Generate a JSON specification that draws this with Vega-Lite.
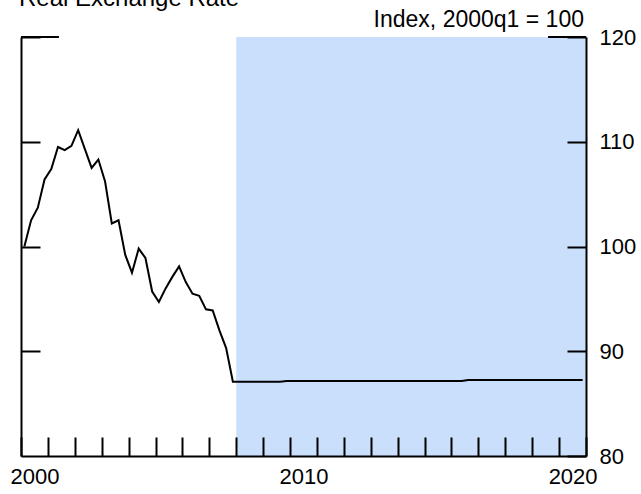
{
  "$schema": "https://vega.github.io/schema/vega-lite/v6.json",
  "width": 565,
  "height": 419,
  "autosize": {"type": "none"},
  "padding": {"left": 21, "top": 37, "right": 55, "bottom": 38},
  "background": "white",
  "title": {
    "text": "Real Exchange Rate",
    "anchor": "start",
    "frame": "group",
    "font": "Liberation Sans",
    "fontSize": 24,
    "fontWeight": "normal",
    "color": "black",
    "baseline": "alphabetic",
    "offset": 0,
    "dx": -2,
    "dy": 22
  },
  "config": {
    "view": {"stroke": null},
    "font": "Liberation Sans",
    "axis": {"zindex": 1},
    "axisX": {
      "title": null,
      "labelOffset": 13.5,
      "labelFlush": false,
      "labelOverlap": false,
      "labelFont": "Liberation Sans",
      "labelFontSize": 22,
      "labelColor": "black",
      "labelPadding": 29,
      "tickSize": -19,
      "tickWidth": 2,
      "tickColor": "black",
      "domainColor": "black",
      "domainWidth": 2,
      "grid": false,
      "zindex": 1
    }
  },
  "datasets": {
    "rer": [
      {"t": 2000.125, "v": 100.0},
      {"t": 2000.375, "v": 102.5},
      {"t": 2000.625, "v": 103.7},
      {"t": 2000.875, "v": 106.4},
      {"t": 2001.125, "v": 107.4},
      {"t": 2001.375, "v": 109.5},
      {"t": 2001.625, "v": 109.2},
      {"t": 2001.875, "v": 109.6},
      {"t": 2002.125, "v": 111.1},
      {"t": 2002.375, "v": 109.3},
      {"t": 2002.625, "v": 107.5},
      {"t": 2002.875, "v": 108.3},
      {"t": 2003.125, "v": 106.2},
      {"t": 2003.375, "v": 102.2},
      {"t": 2003.625, "v": 102.5},
      {"t": 2003.875, "v": 99.2},
      {"t": 2004.125, "v": 97.5},
      {"t": 2004.375, "v": 99.8},
      {"t": 2004.625, "v": 98.9},
      {"t": 2004.875, "v": 95.7},
      {"t": 2005.125, "v": 94.7},
      {"t": 2005.375, "v": 96.0},
      {"t": 2005.625, "v": 97.1},
      {"t": 2005.875, "v": 98.1},
      {"t": 2006.125, "v": 96.6},
      {"t": 2006.375, "v": 95.5},
      {"t": 2006.625, "v": 95.3},
      {"t": 2006.875, "v": 94.0},
      {"t": 2007.125, "v": 93.9},
      {"t": 2007.375, "v": 92.0},
      {"t": 2007.625, "v": 90.3},
      {"t": 2007.875, "v": 87.1},
      {"t": 2008.125, "v": 87.1},
      {"t": 2008.375, "v": 87.1},
      {"t": 2008.625, "v": 87.1},
      {"t": 2008.875, "v": 87.1},
      {"t": 2009.125, "v": 87.1},
      {"t": 2009.375, "v": 87.1},
      {"t": 2009.625, "v": 87.1},
      {"t": 2009.875, "v": 87.15},
      {"t": 2010.125, "v": 87.15},
      {"t": 2010.375, "v": 87.15},
      {"t": 2010.625, "v": 87.15},
      {"t": 2010.875, "v": 87.15},
      {"t": 2011.125, "v": 87.15},
      {"t": 2011.375, "v": 87.15},
      {"t": 2011.625, "v": 87.15},
      {"t": 2011.875, "v": 87.15},
      {"t": 2012.125, "v": 87.15},
      {"t": 2012.375, "v": 87.15},
      {"t": 2012.625, "v": 87.15},
      {"t": 2012.875, "v": 87.15},
      {"t": 2013.125, "v": 87.15},
      {"t": 2013.375, "v": 87.15},
      {"t": 2013.625, "v": 87.15},
      {"t": 2013.875, "v": 87.15},
      {"t": 2014.125, "v": 87.15},
      {"t": 2014.375, "v": 87.15},
      {"t": 2014.625, "v": 87.15},
      {"t": 2014.875, "v": 87.15},
      {"t": 2015.125, "v": 87.15},
      {"t": 2015.375, "v": 87.15},
      {"t": 2015.625, "v": 87.15},
      {"t": 2015.875, "v": 87.15},
      {"t": 2016.125, "v": 87.15},
      {"t": 2016.375, "v": 87.15},
      {"t": 2016.625, "v": 87.25},
      {"t": 2016.875, "v": 87.25},
      {"t": 2017.125, "v": 87.25},
      {"t": 2017.375, "v": 87.25},
      {"t": 2017.625, "v": 87.25},
      {"t": 2017.875, "v": 87.25},
      {"t": 2018.125, "v": 87.25},
      {"t": 2018.375, "v": 87.25},
      {"t": 2018.625, "v": 87.25},
      {"t": 2018.875, "v": 87.25},
      {"t": 2019.125, "v": 87.25},
      {"t": 2019.375, "v": 87.25},
      {"t": 2019.625, "v": 87.25},
      {"t": 2019.875, "v": 87.25},
      {"t": 2020.125, "v": 87.25},
      {"t": 2020.375, "v": 87.25},
      {"t": 2020.625, "v": 87.25},
      {"t": 2020.875, "v": 87.25}
    ],
    "shade": [{"start": 2008, "end": 2021}],
    "topframe": [
      {"x1": 2000, "x2": 2001.41, "y": 120},
      {"x1": 2019.59, "x2": 2021, "y": 120}
    ]
  },
  "encoding": {
    "x": {
      "type": "quantitative",
      "scale": {"domain": [2000, 2021], "nice": false, "zero": false},
      "axis": {
        "values": [2000, 2001, 2002, 2003, 2004, 2005, 2006, 2007, 2008, 2009, 2010, 2011, 2012, 2013, 2014, 2015, 2016, 2017, 2018, 2019, 2020, 2021],
        "labelExpr": "datum.value % 10 == 0 && datum.value < 2021 ? format(datum.value, 'd') : ''",
        "zindex": 1
      }
    }
  },
  "layer": [
    {
      "data": {"name": "shade"},
      "mark": {"type": "rect", "color": "#cadffc"},
      "encoding": {
        "x": {"field": "start", "type": "quantitative"},
        "x2": {"field": "end"}
      }
    },
    {
      "data": {"name": "rer"},
      "mark": {"type": "line", "color": "black", "strokeWidth": 2},
      "encoding": {
        "x": {"field": "t", "type": "quantitative"},
        "y": {
          "field": "v",
          "type": "quantitative",
          "scale": {"domain": [80, 120], "nice": false, "zero": false},
          "axis": {
            "orient": "left",
            "title": null,
            "values": [90, 100, 110, 120],
            "labels": false,
            "tickSize": -19,
            "tickWidth": 2,
            "tickColor": "black",
            "domainColor": "black",
            "domainWidth": 2,
            "grid": false,
            "zindex": 1
          }
        }
      }
    },
    {
      "data": {"name": "topframe"},
      "mark": {"type": "rule", "color": "black", "strokeWidth": 2},
      "encoding": {
        "x": {"field": "x1", "type": "quantitative"},
        "x2": {"field": "x2"},
        "y": {
          "field": "y",
          "type": "quantitative",
          "axis": {
            "orient": "right",
            "title": "Index, 2000q1 = 100",
            "titleAngle": 0,
            "titleAlign": "right",
            "titleBaseline": "alphabetic",
            "titleX": -2.5,
            "titleY": -11,
            "titleFont": "Liberation Sans",
            "titleFontSize": 23,
            "titleFontWeight": "normal",
            "titleColor": "black",
            "values": [80, 90, 100, 110, 120],
            "labelFont": "Liberation Sans",
            "labelFontSize": 22,
            "labelColor": "black",
            "labelAlign": "left",
            "labelBaseline": "middle",
            "labelPadding": 32,
            "labelFlush": false,
            "tickSize": -19,
            "tickWidth": 2,
            "tickColor": "black",
            "domainColor": "black",
            "domainWidth": 2,
            "grid": false,
            "zindex": 1
          }
        }
      }
    }
  ],
  "resolve": {"axis": {"y": "independent"}}
}
